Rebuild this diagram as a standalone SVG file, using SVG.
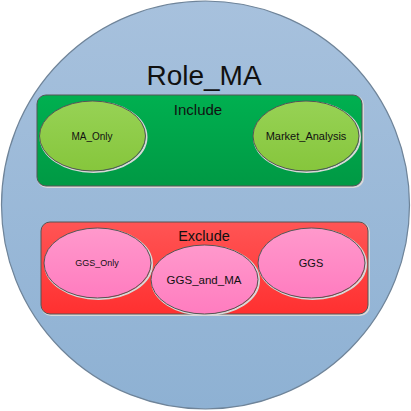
<svg xmlns="http://www.w3.org/2000/svg" width="411" height="411" viewBox="0 0 411 411">
<defs>
<linearGradient id="gBlue" x1="0" y1="0" x2="0" y2="1"><stop offset="0" stop-color="#a7c1dd"/><stop offset="1" stop-color="#8eb1d3"/></linearGradient>
<linearGradient id="gGreen" x1="0" y1="0" x2="0" y2="1"><stop offset="0" stop-color="#00b050"/><stop offset="1" stop-color="#009944"/></linearGradient>
<linearGradient id="gLime" x1="0" y1="0" x2="0" y2="1"><stop offset="0" stop-color="#97d255"/><stop offset="1" stop-color="#86c63c"/></linearGradient>
<linearGradient id="gRed" x1="0" y1="0" x2="0" y2="1"><stop offset="0" stop-color="#ff5555"/><stop offset="1" stop-color="#ff3030"/></linearGradient>
<linearGradient id="gPink" x1="0" y1="0" x2="0" y2="1"><stop offset="0" stop-color="#ff99cc"/><stop offset="1" stop-color="#ff7cbf"/></linearGradient>
</defs>
<style>
text{font-family:"Liberation Sans",Arial,sans-serif;fill:#111;text-anchor:middle}
.sh{fill:none;stroke:#d8d8d8;stroke-width:2}
.el{stroke:#555;stroke-width:1}
.box{stroke:#555;stroke-width:1}
</style>
<g id="role_ma">
<circle cx="205.5" cy="205" r="204" fill="url(#gBlue)" stroke="#6f8499" stroke-width="1.2"/>
<text x="204" y="85" font-size="28">Role_MA</text>
</g>
<g id="include">
<rect x="38" y="96" width="325" height="91" rx="9" class="sh"/>
<rect x="37" y="95" width="325" height="91" rx="9" fill="url(#gGreen)" class="box"/>
<text x="198" y="115" font-size="15">Include</text>
</g>
<g id="ma_only">
<ellipse cx="93.5" cy="137" rx="53" ry="35" class="sh"/>
<ellipse cx="92.5" cy="136" rx="53" ry="35" fill="url(#gLime)" class="el"/>
<text x="92" y="139.5" font-size="10">MA_Only</text>
</g>
<g id="market_analysis">
<ellipse cx="307" cy="137" rx="53" ry="35" class="sh"/>
<ellipse cx="306" cy="136" rx="53" ry="35" fill="url(#gLime)" class="el"/>
<text x="306" y="139.5" font-size="11">Market_Analysis</text>
</g>
<g id="exclude">
<rect x="42" y="223" width="327" height="92" rx="9" class="sh"/>
<rect x="41" y="222" width="327" height="92" rx="9" fill="url(#gRed)" class="box"/>
<text x="204" y="241" font-size="14.5">Exclude</text>
</g>
<g id="ggs_only">
<ellipse cx="98.5" cy="264" rx="53.5" ry="35" class="sh"/>
<ellipse cx="97.5" cy="263" rx="53.5" ry="35" fill="url(#gPink)" class="el"/>
<text x="97" y="266" font-size="9">GGS_Only</text>
</g>
<g id="ggs">
<ellipse cx="312.5" cy="264" rx="53.5" ry="35" class="sh"/>
<ellipse cx="311.5" cy="263" rx="53.5" ry="35" fill="url(#gPink)" class="el"/>
<text x="311" y="267" font-size="11">GGS</text>
</g>
<g id="ggs_and_ma">
<ellipse cx="205.5" cy="280.5" rx="53.5" ry="34.5" class="sh"/>
<ellipse cx="204.5" cy="279.5" rx="53.5" ry="34.5" fill="url(#gPink)" class="el"/>
<text x="204" y="284" font-size="11.5">GGS_and_MA</text>
</g>
<g id="connectors"></g>
</svg>
